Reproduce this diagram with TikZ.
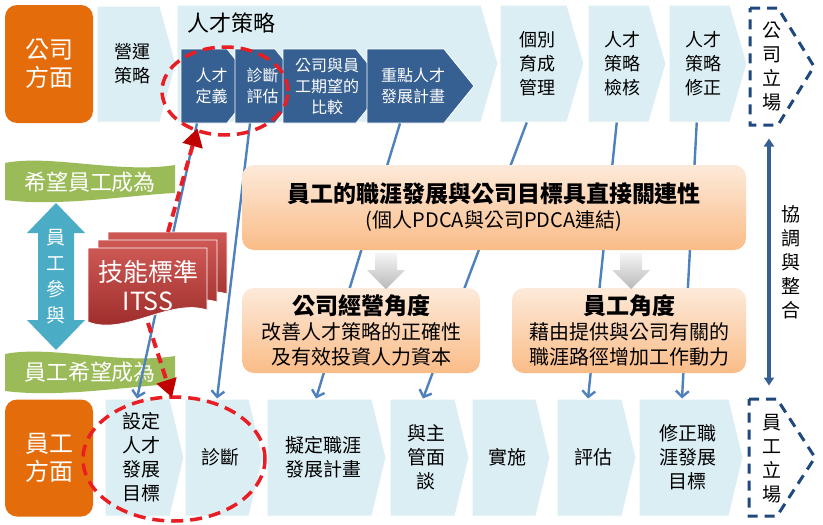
\documentclass[tikz,border=0pt]{standalone}
\usepackage{fontspec}
\setmainfont{Noto Sans CJK TC}
\usetikzlibrary{arrows.meta}

\definecolor{sideorange}{RGB}{228,108,10}
\definecolor{chevblue}{RGB}{219,238,244}
\definecolor{darkblue}{RGB}{55,96,146}
\definecolor{navy}{RGB}{31,73,125}
\definecolor{linkblue}{RGB}{79,129,189}
\definecolor{wavegreen}{RGB}{155,187,89}
\definecolor{aqua}{RGB}{75,172,198}
\definecolor{docred}{RGB}{205,88,84}
\definecolor{docdark}{RGB}{152,40,38}
\definecolor{ringred}{RGB}{232,30,36}
\definecolor{tipred}{RGB}{192,0,0}
\definecolor{peachtop}{RGB}{253,234,218}
\definecolor{peachbot}{RGB}{250,188,135}
\definecolor{greytop}{RGB}{245,245,245}
\definecolor{greybot}{RGB}{185,185,185}

% chevron: name, style, left, tip, top, bottom, depth, text
\newcommand{\chev}[8]{%
  \path[#2] (#3,#5) -- ({#4-#7},#5) -- (#4,{(#5+#6)/2}) -- ({#4-#7},#6) -- (#3,#6) -- cycle;
  \node[chevtext,#2,fill=none,draw=none,minimum width={#4-#3-#7/2},minimum height={#6-#5}]
    at ({(#3+#4)/2-#7/4},{(#5+#6)/2}) (#1) {#8};
}

\begin{document}
\begin{tikzpicture}[x=1pt,y=-1pt,
    chevtext/.style={align=center, inner sep=0pt},
    lightchev/.style={fill=chevblue, draw=white, line width=1pt, text=black, font=\fontsize{18}{24}\selectfont},
    botchev/.style={fill=chevblue, draw=white, line width=1pt, text=black, font=\fontsize{19}{24}\selectfont},
    darkchev/.style={fill=darkblue, draw=white, line width=0.8pt, text=white, font=\fontsize{16}{21}\selectfont},
    standchev/.style={draw=navy, line width=3pt, dash pattern=on 10pt off 7pt, fill=none},
    sidebox/.style={fill=sideorange, rounded corners=12pt, text=white, align=center, minimum width=88pt, minimum height=118pt, font=\fontsize{24}{28}\selectfont},
    banner/.style={fill=wavegreen},
    bannertext/.style={text=white, font=\fontsize{22}{26}\selectfont},
    vtext/.style={align=center, inner sep=0pt, font=\fontsize{19}{24}\selectfont},
    peachbox/.style={top color=peachtop, bottom color=peachbot, rounded corners=12pt, align=center, inner sep=0pt},
    greyarrow/.style={top color=greytop, bottom color=greybot},
    itssdoc/.style={top color=docred, bottom color=docdark, draw=white, line width=0.8pt},
    link/.style={draw=linkblue, line width=2.4pt, -{Straight Barb[length=6pt,width=13pt]}},
    redring/.style={draw=ringred, line width=3.5pt, dash pattern=on 12pt off 7pt},
    redarrow/.style={draw=ringred, line width=4pt, dash pattern=on 10pt off 6pt, -{Triangle[length=18pt,width=20pt,color=tipred]}},
    coord/.style={draw=darkblue, line width=3.5pt, {Triangle[length=8pt,width=10pt]}-{Triangle[length=8pt,width=10pt]}}]

    \useasboundingbox (0,0) rectangle (823,525);
    \fill[white] (0,0) rectangle (823,525);

    % company side
    \node[sidebox] at (49,64) (gsfm) {公司\\方面};
    \chev{yyce}{lightchev}{97}{176}{6}{122}{16}{營運\\策略}
    \chev{rccl}{lightchev}{177}{498}{5}{122}{17}{}
    \node[font=\fontsize{22}{26}\selectfont] at (231,23) (rcclt) {人才策略};
    \chev{rcdy}{darkchev}{181}{257}{49}{123}{30}{人才\\定義}
    \chev{zdpg}{darkchev}{235}{305}{49}{123}{30}{診斷\\評估}
    \chev{qwbj}{darkchev}{283}{386}{49}{123}{30}{公司與員\\工期望的\\比較}
    \chev{zdjh}{darkchev}{367}{474}{49}{123}{30}{重點人才\\發展計畫}
    \chev{gbyc}{lightchev}{500}{584}{5}{122}{17}{個別\\育成\\管理}
    \chev{rcjh}{lightchev}{588}{666}{5}{122}{17}{人才\\策略\\檢核}
    \chev{rcxz}{lightchev}{669}{747}{5}{122}{17}{人才\\策略\\修正}
    \chev{gslc}{standchev}{750}{814}{8}{125}{36}{}
    \node[vtext] at (772,67) (gslct) {公\\司\\立\\場};

    % employee side
    \node[sidebox, minimum height=117pt] at (49,458) (ygfm) {員工\\方面};
    \chev{sdmb}{botchev}{105}{184}{399}{516}{14}{設定\\人才\\發展\\目標}
    \chev{zhd}{botchev}{185}{263}{399}{516}{14}{診斷}
    \chev{ndjh}{botchev}{267}{386}{399}{516}{14}{擬定職涯\\發展計畫}
    \chev{zgmt}{botchev}{390}{469}{399}{516}{14}{與主\\管面\\談}
    \chev{shsh}{botchev}{472}{550}{399}{516}{14}{實施}
    \chev{pggu}{botchev}{557}{636}{399}{516}{14}{評估}
    \chev{xzmb}{botchev}{639}{743}{399}{516}{14}{修正職\\涯發展\\目標}
    \chev{yglc}{standchev}{749}{815}{399}{516}{38}{}
    \node[vtext] at (772,459) (yglct) {員\\工\\立\\場};

    % banners and participation arrow
    \path[banner] (5,163) .. controls (50,154) and (120,174) .. (175,165) -- (175,193) .. controls (130,195) and (60,207) .. (5,200) -- cycle;
    \node[bannertext] at (90,182) (xwcw) {希望員工成為};
    \path[banner] (5,354) .. controls (50,345) and (120,365) .. (175,356) -- (175,384) .. controls (130,386) and (60,398) .. (5,391) -- cycle;
    \node[bannertext] at (90,372) (ygxw) {員工希望成為};
    \fill[aqua] (56,203) -- (85,233) -- (74,233) -- (74,320) -- (85,320) -- (56,350) -- (27,320) -- (38,320) -- (38,233) -- (27,233) -- cycle;
    \node[vtext, text=white, font=\fontsize{19}{26}\selectfont] at (56,277) (ygcy) {員\\工\\參\\與};

    % links
    \draw[link] ([xshift=-14.5pt]rcdy.south) -- ([xshift=-4pt]sdmb.north);
    \draw[link] ([xshift=-12.5pt]zdpg.south) -- ([xshift=-3.5pt]zhd.north);
    \draw[link] ([xshift=-13pt]zdjh.south) -- ([xshift=-7pt]ndjh.north);
    \draw[link] ([xshift=-11pt]gbyc.south) -- ([xshift=-3pt]zgmt.north);
    \draw[link] ([xshift=-6pt]rcjh.south) -- ([xshift=-5pt]pggu.north);
    \draw[link] ([xshift=-7pt]rcxz.south) -- ([xshift=-5.5pt]xzmb.north);

    % skill standard
    \path[itssdoc, shift={(20,-16)}] (88,248) -- (207,248) -- (207,310) .. controls (170,298) and (125,336) .. (88,322) -- cycle;
    \path[itssdoc, shift={(10,-8)}] (88,248) -- (207,248) -- (207,310) .. controls (170,298) and (125,336) .. (88,322) -- cycle;
    \path[itssdoc] (88,248) -- (207,248) -- (207,310) .. controls (170,298) and (125,336) .. (88,322) -- cycle;
    \node[text=white, align=center, font=\fontsize{25}{29}\selectfont] at (148,286) (itss) {技能標準\\ITSS};
    \coordinate (itsstop) at (168,232);
    \coordinate (itssbot) at (148,323);

    % linkage boxes
    \node[peachbox, minimum width=504pt, minimum height=85pt, font=\fontsize{20}{25}\selectfont] at (494,207.5) (glx)
      {{\fontsize{23}{25}\bfseries 員工的職涯發展與公司目標具直接關連性}\\(個人PDCA與公司PDCA連結)};
    \node[peachbox, minimum width=238pt, minimum height=85pt, font=\fontsize{20}{25}\selectfont] at (361,330.5) (gsjy)
      {{\fontsize{23}{25}\bfseries 公司經營角度}\\改善人才策略的正確性\\及有效投資人力資本};
    \node[peachbox, minimum width=234pt, minimum height=85pt, font=\fontsize{20}{25}\selectfont] at (629,330.5) (ygjd)
      {{\fontsize{23}{25}\bfseries 員工角度}\\藉由提供與公司有關的\\職涯路徑增加工作動力};
    \path[greyarrow] (375,253) -- (397,253) -- (397,270) -- (405,270) -- (386,289) -- (367,270) -- (375,270) -- cycle;
    \path[greyarrow] (620,253) -- (642,253) -- (642,270) -- (650,270) -- (631,289) -- (612,270) -- (620,270) -- cycle;

    % coordination
    \draw[coord] ([xshift=-4pt,yshift=-12pt]gslc.south) -- ([xshift=-3.5pt,yshift=12pt]yglc.north);
    \node[vtext] at (791,262) (xdzh) {協\\調\\與\\整\\合};

    % focus rings
    \draw[redring] (225,91) ellipse [x radius=63pt, y radius=44pt];
    \draw[redring] (174,459) ellipse [x radius=91pt, y radius=62pt];
    \draw[redarrow] (itsstop) -- ([xshift=-14pt,yshift=-5pt]rcdy.south);
    \draw[redarrow] (itssbot) -- ([xshift=31pt,yshift=1pt]sdmb.north);
\end{tikzpicture}
\end{document}
